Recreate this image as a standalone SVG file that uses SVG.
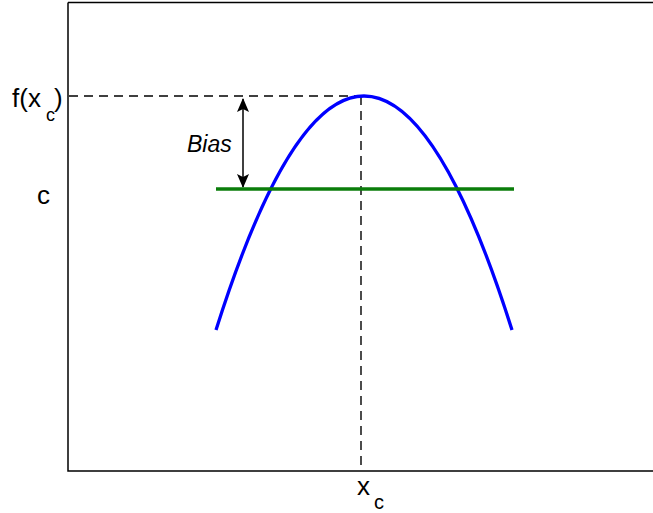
<svg xmlns="http://www.w3.org/2000/svg" width="653" height="513" viewBox="0 0 653 513">
<defs>
<style>
.lbl{font-family:"Liberation Sans",Arial,sans-serif;fill:#000}
.dash{stroke:#000;stroke-width:1.4;stroke-dasharray:9,6;fill:none}
</style>
<marker id="ah" viewBox="0 0 14 12" refX="13" refY="6" markerWidth="14" markerHeight="12" markerUnits="userSpaceOnUse" orient="auto-start-reverse">
<path d="M0,0 L14,6 L0,12 L3,6 Z" fill="#000"/>
</marker>
</defs>
<rect width="653" height="513" fill="#fff"/>
<g id="axes">
<path d="M68,2.5 H653 M68,2.5 V471 H653" fill="none" stroke="#000" stroke-width="1.5"/>
</g>
<g id="connectors">
<path class="dash" d="M69,96 H361"/>
<path class="dash" d="M361,96 V470"/>
<line x1="243" y1="99" x2="243" y2="187" stroke="#000" stroke-width="1.5" marker-start="url(#ah)" marker-end="url(#ah)"/>
</g>
<g id="curve">
<path d="M216,330 Q364,-138 512,330" fill="none" stroke="#0000ff" stroke-width="3.3"/>
</g>
<g id="c-line">
<line x1="216" y1="189" x2="514" y2="189" stroke="#0a7d0a" stroke-width="3.3"/>
</g>
<g id="labels">
<text class="lbl" x="12" y="107" font-size="26">f(x</text>
<text class="lbl" x="46" y="121" font-size="18">c</text>
<text class="lbl" x="54" y="107" font-size="26">)</text>
<text class="lbl" x="37" y="204" font-size="26">c</text>
<text class="lbl" x="187" y="152" font-size="23" font-style="italic">Bias</text>
<text class="lbl" x="357" y="495" font-size="26">x</text>
<text class="lbl" x="374" y="509" font-size="20">c</text>
</g>
</svg>
